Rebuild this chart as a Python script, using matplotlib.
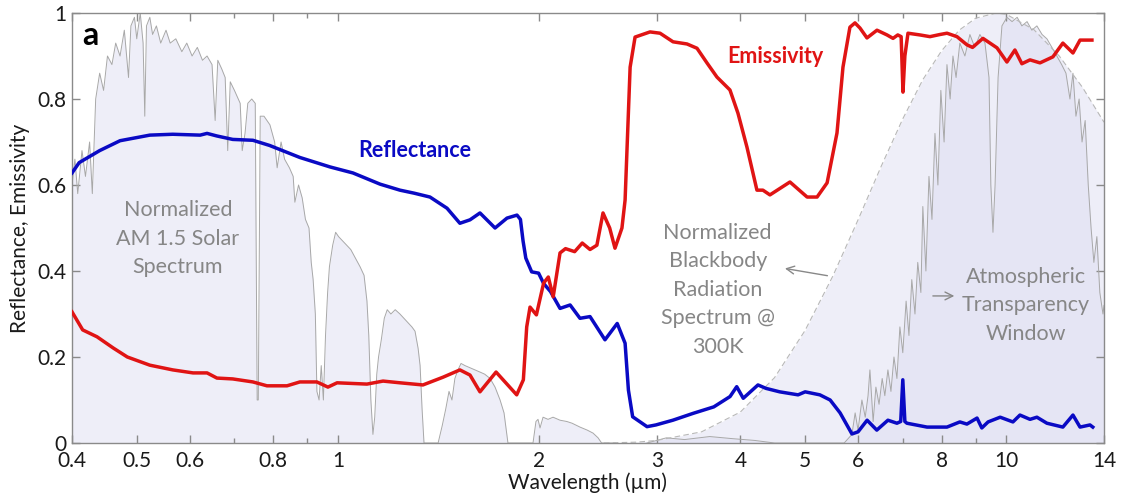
import matplotlib
matplotlib.use("Agg")
import matplotlib.pyplot as plt
from matplotlib.ticker import FixedLocator, NullFormatter

plt.rcParams['font.family'] = ['Lato', 'DejaVu Sans']

# ---------------- data ----------------
refl_wl = [0.400, 0.410, 0.440, 0.472, 0.523, 0.566, 0.622, 0.637, 0.659, 0.696, 0.746, 0.790,
           0.877, 0.973, 1.053, 1.156, 1.238, 1.300, 1.373, 1.456, 1.522, 1.576, 1.631, 1.718,
           1.790, 1.853, 1.875, 1.892, 1.910, 1.949, 1.996, 2.031, 2.080, 2.149, 2.225, 2.302,
           2.383, 2.509, 2.617, 2.689, 2.720, 2.760, 2.900, 2.990, 3.170, 3.400, 3.650, 3.860,
           3.950, 4.040, 4.250, 4.370, 4.580, 4.880, 5.000, 5.260, 5.450, 5.640, 5.875, 6.000,
           6.190, 6.400, 6.650, 6.860, 6.950, 7.000, 7.050, 7.100, 7.610, 8.150, 8.520, 8.730,
           9.040, 9.190, 9.390, 9.790, 10.23, 10.48, 10.85, 11.11, 11.50, 12.15, 12.58, 12.89,
           13.34, 13.47]
refl_val = [0.628, 0.652, 0.680, 0.703, 0.716, 0.718, 0.716, 0.720, 0.714, 0.706, 0.704, 0.692,
            0.664, 0.642, 0.628, 0.602, 0.588, 0.581, 0.572, 0.546, 0.511, 0.519, 0.535, 0.500,
            0.523, 0.530, 0.520, 0.470, 0.430, 0.398, 0.395, 0.371, 0.352, 0.313, 0.321, 0.290,
            0.294, 0.240, 0.278, 0.232, 0.123, 0.061, 0.038, 0.042, 0.053, 0.069, 0.084, 0.108,
            0.131, 0.104, 0.135, 0.127, 0.119, 0.112, 0.119, 0.112, 0.100, 0.070, 0.021, 0.026,
            0.053, 0.030, 0.053, 0.046, 0.050, 0.147, 0.050, 0.046, 0.037, 0.037, 0.049, 0.044,
            0.058, 0.035, 0.049, 0.060, 0.049, 0.065, 0.055, 0.060, 0.046, 0.037, 0.065, 0.037,
            0.042, 0.037]

emis_wl = [0.400, 0.415, 0.436, 0.461, 0.484, 0.523, 0.566, 0.607, 0.637, 0.659, 0.696, 0.746,
           0.783, 0.839, 0.877, 0.930, 0.966, 0.997, 1.105, 1.168, 1.238, 1.340, 1.436, 1.522,
           1.576, 1.631, 1.724, 1.851, 1.894, 1.916, 1.938, 1.981, 2.031, 2.064, 2.099, 2.149,
           2.190, 2.260, 2.320, 2.383, 2.440, 2.492, 2.550, 2.597, 2.660, 2.689, 2.736, 2.783,
           2.930, 3.033, 3.172, 3.328, 3.445, 3.565, 3.690, 3.859, 3.967, 4.092, 4.235, 4.323,
           4.429, 4.745, 5.034, 5.210, 5.393, 5.580, 5.696, 5.834, 5.937, 6.040, 6.187, 6.404,
           6.629, 6.768, 6.880, 6.960, 7.004, 7.050, 7.126, 7.425, 7.686, 7.957, 8.151, 8.436,
           8.731, 8.900, 9.226, 9.683, 10.02, 10.30, 10.55, 10.85, 11.23, 11.74, 12.15, 12.58,
           12.89, 13.43]
emis_val = [0.305, 0.263, 0.247, 0.221, 0.200, 0.181, 0.170, 0.163, 0.163, 0.151, 0.149, 0.142,
            0.133, 0.133, 0.142, 0.142, 0.130, 0.140, 0.137, 0.144, 0.140, 0.135, 0.153, 0.170,
            0.158, 0.119, 0.165, 0.112, 0.147, 0.270, 0.316, 0.298, 0.372, 0.386, 0.340, 0.442,
            0.452, 0.445, 0.465, 0.450, 0.460, 0.535, 0.500, 0.453, 0.500, 0.565, 0.874, 0.944,
            0.956, 0.953, 0.933, 0.928, 0.918, 0.884, 0.851, 0.821, 0.767, 0.688, 0.588, 0.588,
            0.577, 0.607, 0.572, 0.572, 0.605, 0.721, 0.874, 0.967, 0.977, 0.965, 0.942, 0.960,
            0.949, 0.941, 0.949, 0.945, 0.816, 0.900, 0.953, 0.949, 0.945, 0.950, 0.953, 0.945,
            0.926, 0.920, 0.941, 0.919, 0.886, 0.914, 0.882, 0.891, 0.884, 0.898, 0.930, 0.907,
            0.937, 0.937]

solar_wl = [0.400, 0.404, 0.408, 0.414, 0.419, 0.425, 0.429, 0.434, 0.440, 0.446, 0.452, 0.459,
            0.465, 0.472, 0.479, 0.486, 0.490, 0.496, 0.500, 0.506, 0.511, 0.514, 0.517, 0.523,
            0.528, 0.535, 0.543, 0.553, 0.561, 0.572, 0.584, 0.594, 0.605, 0.616, 0.627, 0.637,
            0.648, 0.655, 0.661, 0.670, 0.678, 0.684, 0.690, 0.700, 0.714, 0.719, 0.726, 0.733,
            0.743, 0.752, 0.757, 0.760, 0.765, 0.775, 0.791, 0.804, 0.811, 0.822, 0.832, 0.846,
            0.857, 0.862, 0.873, 0.884, 0.894, 0.905, 0.912, 0.918, 0.925, 0.930, 0.937, 0.944,
            0.951, 0.958, 0.965, 0.971, 0.982, 0.992, 1.002, 1.016, 1.030, 1.045, 1.062, 1.079,
            1.094, 1.105, 1.112, 1.120, 1.128, 1.135, 1.143, 1.150, 1.161, 1.173, 1.185, 1.200,
            1.218, 1.238, 1.255, 1.272, 1.290, 1.304, 1.318, 1.327, 1.336, 1.345, 1.412, 1.432,
            1.450, 1.466, 1.481, 1.496, 1.512, 1.528, 1.549, 1.576, 1.604, 1.631, 1.658, 1.689,
            1.718, 1.748, 1.772, 1.796, 1.958, 1.978, 1.992, 2.006, 2.027, 2.062, 2.098, 2.149,
            2.200, 2.240, 2.302, 2.360, 2.408, 2.450, 2.480, 2.600]
solar_val = [0.60, 0.66, 0.58, 0.68, 0.62, 0.70, 0.58, 0.80, 0.86, 0.82, 0.90, 0.88,
             0.93, 0.90, 0.96, 0.85, 0.97, 0.99, 0.94, 1.00, 0.93, 0.76, 0.97, 0.99,
             0.95, 0.97, 0.93, 0.96, 0.93, 0.94, 0.91, 0.93, 0.90, 0.92, 0.89, 0.90,
             0.88, 0.75, 0.89, 0.87, 0.85, 0.68, 0.84, 0.82, 0.79, 0.68, 0.72, 0.79,
             0.80, 0.79, 0.10, 0.10, 0.76, 0.76, 0.74, 0.70, 0.64, 0.70, 0.66, 0.64,
             0.62, 0.56, 0.60, 0.57, 0.52, 0.50, 0.42, 0.38, 0.30, 0.12, 0.10, 0.18,
             0.10, 0.25, 0.35, 0.41, 0.46, 0.49, 0.48, 0.47, 0.46, 0.45, 0.43, 0.41,
             0.39, 0.33, 0.25, 0.10, 0.02, 0.06, 0.16, 0.20, 0.24, 0.29, 0.31, 0.30,
             0.31, 0.30, 0.29, 0.28, 0.27, 0.26, 0.22, 0.18, 0.08, 0.00, 0.00, 0.04,
             0.08, 0.12, 0.10, 0.15, 0.17, 0.185, 0.18, 0.175, 0.17, 0.165, 0.16, 0.15,
             0.13, 0.10, 0.07, 0.00, 0.00, 0.05, 0.055, 0.035, 0.06, 0.055, 0.06, 0.053,
             0.05, 0.046, 0.037, 0.03, 0.023, 0.012, 0.00, 0.00]

atm_wl = [2.90, 3.10, 3.30, 3.60, 3.90, 4.20, 4.50, 5.72, 5.875, 5.94, 6.00, 6.08, 6.15, 6.21,
          6.25, 6.32, 6.38, 6.45, 6.52, 6.58, 6.65, 6.72, 6.79, 6.86, 6.93, 7.00, 7.08, 7.15,
          7.22, 7.30, 7.37, 7.45, 7.50, 7.58, 7.66, 7.74, 7.82, 7.90, 7.98, 8.07, 8.15, 8.24,
          8.32, 8.41, 8.52, 8.67, 8.82, 8.97, 9.13, 9.29, 9.42, 9.48, 9.55, 9.62, 9.72, 9.85,
          10.02, 10.20, 10.38, 10.55, 10.74, 10.92, 11.11, 11.31, 11.50, 11.70, 11.90, 12.10,
          12.28, 12.45, 12.58, 12.71, 12.85, 12.98, 13.12, 13.26, 13.39, 13.52, 13.66, 13.80,
          13.95, 14.0]
atm_val = [0.000, 0.012, 0.008, 0.015, 0.010, 0.006, 0.000, 0.000, 0.02, 0.07, 0.03, 0.10, 0.06, 0.11,
           0.17, 0.05, 0.13, 0.09, 0.15, 0.11, 0.17, 0.12, 0.20, 0.15, 0.27, 0.21, 0.33, 0.25,
           0.38, 0.30, 0.42, 0.35, 0.55, 0.40, 0.62, 0.52, 0.72, 0.60, 0.82, 0.70, 0.88, 0.80,
           0.90, 0.85, 0.93, 0.90, 0.95, 0.92, 0.95, 0.93, 0.85, 0.60, 0.49, 0.60, 0.85, 0.97,
           0.99, 0.98, 0.99, 0.97, 0.98, 0.96, 0.97, 0.95, 0.94, 0.92, 0.90, 0.88,
           0.86, 0.80, 0.86, 0.76, 0.80, 0.70, 0.75, 0.60, 0.50, 0.42, 0.48, 0.35,
           0.30, 0.32]

bb_wl = [2.5, 2.8, 3.0, 3.5, 4.0, 4.5, 5.0, 5.5, 6.0, 6.5, 7.0, 7.5, 8.0, 8.5, 9.0, 9.66,
         10.0, 11.0, 12.0, 13.0, 14.0]
bb_val = [0.0, 0.002, 0.006, 0.026, 0.072, 0.152, 0.262, 0.388, 0.519, 0.644, 0.754, 0.845,
          0.912, 0.960, 0.988, 1.0, 0.997, 0.961, 0.900, 0.827, 0.746]

x_ticks = [0.4, 0.5, 0.6, 0.8, 1, 2, 3, 4, 5, 6, 8, 10, 14]
x_ticklabels = ['0.4', '0.5', '0.6', '0.8', '1', '2', '3', '4', '5', '6', '8', '10', '14']
x_minor = [0.7, 0.9, 7, 9]
y_ticks = [0, 0.2, 0.4, 0.6, 0.8, 1.0]
y_ticklabels = ['0', '0.2', '0.4', '0.6', '0.8', '1']

# ---------------- figure ----------------
fig = plt.figure(figsize=(11.21, 4.99), dpi=100)
ax = fig.add_axes([72/1121, 1-443/499, 1032/1121, 430/499])

fill_c = (0.86, 0.86, 0.94)
ax.fill_between(solar_wl, 0, solar_val, color=fill_c, alpha=0.45, lw=0, zorder=1)
ax.fill_between(bb_wl, 0, bb_val, color=fill_c, alpha=0.45, lw=0, zorder=1)
ax.fill_between(atm_wl, 0, atm_val, color=fill_c, alpha=0.45, lw=0, zorder=1)

ax.plot(solar_wl, solar_val, color='#a8a8a8', lw=0.7, zorder=2)
ax.plot(atm_wl, atm_val, color='#a8a8a8', lw=0.7, zorder=2)
ax.plot(bb_wl, bb_val, color='#b8b8b8', lw=0.8, ls=(0, (5, 3)), zorder=2)

ax.plot(refl_wl, refl_val, color='#0a0ac4', lw=2.5, zorder=4, solid_joinstyle='round')
ax.plot(emis_wl, emis_val, color='#e01414', lw=2.5, zorder=4, solid_joinstyle='round')

ax.set_xscale('log')
ax.set_xlim(0.4, 14)
ax.set_ylim(0, 1)
ax.xaxis.set_major_locator(FixedLocator(x_ticks))
ax.set_xticklabels(x_ticklabels)
ax.xaxis.set_minor_locator(FixedLocator(x_minor))
ax.xaxis.set_minor_formatter(NullFormatter())
ax.set_yticks(y_ticks)
ax.set_yticklabels(y_ticklabels)

for s in ax.spines.values():
    s.set_color('#8a8a8a')
    s.set_linewidth(1.0)
ax.tick_params(which='both', direction='in', top=True, right=True, color='#8a8a8a',
               labelsize=15, labelcolor='#1a1a1a')
ax.tick_params(which='major', length=6, width=1)
ax.tick_params(which='minor', length=3.5, width=1)
ax.tick_params(axis='x', pad=6)
ax.tick_params(axis='y', pad=4)

ax.set_xlabel('Wavelength (\u00b5m)', fontsize=15, color='#1a1a1a', labelpad=1)
ax.set_ylabel('Reflectance, Emissivity', fontsize=15, color='#1a1a1a', labelpad=5)

gray_t = '#868686'
ax.text(0.0174, 0.926, 'a', transform=ax.transAxes, fontsize=23, fontweight='bold',
        ha='center', va='baseline', color='black')
ax.text(1.304, 0.665, 'Reflectance', fontsize=15.5, fontweight='bold', color='#0a0ac4',
        ha='center', va='baseline')
ax.text(4.51, 0.884, 'Emissivity', fontsize=15.5, fontweight='bold', color='#e01414',
        ha='center', va='baseline')
ax.text(0.576, 0.395, 'Normalized\nAM 1.5 Solar\nSpectrum', fontsize=15.5, color=gray_t,
        ha='center', va='baseline', linespacing=1.54, zorder=5)
ax.text(3.70, 0.209, 'Normalized\nBlackbody\nRadiation\nSpectrum @\n300K', fontsize=15.5,
        color=gray_t, ha='center', va='baseline', linespacing=1.54, zorder=5)
ax.text(10.7, 0.240, 'Atmospheric\nTransparency\nWindow', fontsize=15.5, color=gray_t,
        ha='center', va='baseline', linespacing=1.54, zorder=5)

arrow_kw = dict(arrowstyle='->', color='#888888', lw=1.0, mutation_scale=14)
ax.annotate('', xy=(4.62, 0.407), xytext=(5.45, 0.388), arrowprops=arrow_kw, zorder=5)
ax.annotate('', xy=(8.44, 0.342), xytext=(7.69, 0.342), arrowprops=arrow_kw, zorder=5)

fig.savefig('out.png', dpi=100)
